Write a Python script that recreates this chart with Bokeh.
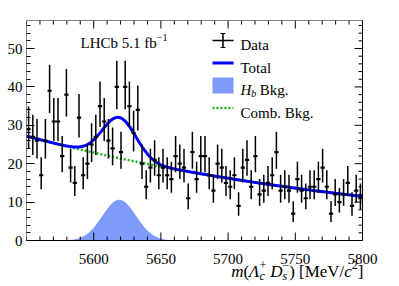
import numpy as np
from bokeh.plotting import figure
from bokeh.models import Label, Arrow, TeeHead, BoxAnnotation, FixedTicker
from bokeh.embed import file_html
from bokeh.resources import INLINE

# ---------------- data ----------------
mass_min, mass_max = 5550.0, 5800.0
n_bins = 80
counts = [29, 27, 26, 17, 26, 39, 31, 31, 22, 38,
          19, 15, 32, 17, 20, 25, 27, 35, 31, 26,
          24, 40, 23, 40, 35, 28, 34, 20, 14, 19,
          21, 17, 19, 17, 16, 22, 20, 19, 11, 23,
          16, 22, 22, 17, 13, 20, 19, 15, 14, 17,
          9, 19, 21, 14, 22, 12, 13, 15, 17, 23,
          13, 14, 13, 7, 16, 13, 11, 14, 14, 16,
          19, 14, 7, 12, 10, 12, 15, 9, 13, 11]

# fit components (shape parameters)
comb_at_min = 27.2       # combinatorial level at 5550
comb_slope = 0.00345     # exponential slope per MeV
hb_mean = 5619.0
hb_sigma = 12.5
hb_height = 10.6

x_ticks = [5600, 5650, 5700, 5750, 5800]
x_tick_labels = ["5600", "5650", "5700", "5750", "5800"]
x_minor = list(range(5550, 5801, 10))
y_ticks = [0, 10, 20, 30, 40, 50]
y_minor = list(range(0, 58, 2))
y_top = 57.3

# ---------------- derived ----------------
counts = np.array(counts, dtype=float)
bw = (mass_max - mass_min) / n_bins
lo_edges = mass_min + np.arange(n_bins) * bw
hi_edges = lo_edges + bw
centers = lo_edges + bw / 2
err_up = np.sqrt(counts + 0.25) + 0.5
err_dn = np.sqrt(counts + 0.25) - 0.5

m = np.linspace(mass_min, mass_max, 600)
comb = comb_at_min * np.exp(-comb_slope * (m - mass_min))
hb = hb_height * np.exp(-0.5 * ((m - hb_mean) / hb_sigma) ** 2)
total = comb + hb

SERIF = "Liberation Serif"
BLUE = "#0000ff"
GREEN = "#16b316"
HBFILL = "#7e9bfb"

# layout: the drawing area spans from x=26 to the right edge and from y=20 to the bottom;
# the data box (5550-5800, 0-57.3) occupies 336 x 220 px of it, the strip below holds
# the x tick labels and the axis title.
W, H = 399, 286
BL, BT = 26, 20
BOX_W, BOX_H = 336, 220
mev_per_px = (mass_max - mass_min) / BOX_W
cnt_per_px = y_top / BOX_H
below_px = H - BT - BOX_H            # strip under the data box
right_px = W - BL - BOX_W            # strip right of the data box
x_lo, x_hi = mass_min, mass_max + right_px * mev_per_px
y_lo, y_hi = -below_px * cnt_per_px, y_top

p = figure(width=W, height=H, x_range=(x_lo, x_hi), y_range=(y_lo, y_hi),
           output_backend="svg", toolbar_location=None, x_axis_location=None,
           min_border_left=BL, min_border_right=0, min_border_top=BT, min_border_bottom=0)
p.grid.visible = False
p.outline_line_color = None
p.background_fill_color = "white"
p.border_fill_color = "white"

yl = p.yaxis[0]
yl.ticker = FixedTicker(ticks=y_ticks, minor_ticks=y_minor)
yl.axis_line_color = None
yl.major_tick_in = 8
yl.major_tick_out = 0
yl.minor_tick_in = 4
yl.minor_tick_out = 0
yl.major_tick_line_color = "black"
yl.minor_tick_line_color = "black"
yl.major_label_text_font = SERIF
yl.major_label_text_font_size = "15px"
yl.major_label_text_color = "black"
yl.major_label_standoff = 4

# ---------------- glyphs ----------------
p.varea(x=m, y1=0, y2=hb, fill_color=HBFILL, fill_alpha=1)
p.line(m, comb, line_color=GREEN, line_width=2.5, line_dash="2 2")
p.line(m, total, line_color=BLUE, line_width=3)
p.segment(x0=centers, y0=counts - err_dn, x1=centers, y1=counts + err_up,
          line_color="black", line_width=1.5)
p.segment(x0=lo_edges, y0=counts, x1=hi_edges, y1=counts,
          line_color="black", line_width=2.2)

# inward ticks on bottom, top and right edges (screen-length rays)
x_minor_only = [v for v in x_minor if v not in x_ticks]
y_minor_only = [v for v in y_minor if v not in y_ticks]
tick_kw = dict(length_units="screen", line_color="black", line_width=1)
p.ray(x=x_ticks, y=[0] * len(x_ticks), length=8, angle=np.pi / 2, **tick_kw)
p.ray(x=x_minor_only, y=[0] * len(x_minor_only), length=4, angle=np.pi / 2, **tick_kw)
p.ray(x=x_ticks, y=[y_top] * len(x_ticks), length=8, angle=-np.pi / 2, **tick_kw)
p.ray(x=x_minor_only, y=[y_top] * len(x_minor_only), length=4, angle=-np.pi / 2, **tick_kw)
p.ray(x=[mass_max] * len(y_ticks), y=y_ticks, length=8, angle=np.pi, **tick_kw)
p.ray(x=[mass_max] * len(y_minor_only), y=y_minor_only, length=4, angle=np.pi, **tick_kw)

# data box outline
p.quad(left=[mass_min], right=[mass_max], bottom=[0], top=[y_top],
       fill_color=None, line_color="black", line_width=1)

# ---------------- text helpers ----------------
W_REG = {" ": .25, "(": .333, ")": .333, "[": .333, "]": .333, "M": .889, "e": .444,
         "V": .722, "/": .278, "+": .564, "\u2212": .564, ".": .25, "L": .611,
         "H": .722, "C": .667, "b": .5, "f": .333, "k": .5, "g": .5, "B": .667}
W_IT = {"m": .722, "\u039b": .611, "c": .444, "D": .722, "s": .389, "H": .722, "b": .5}

def text_w(t, size, italic=False):
    tab = W_IT if italic else W_REG
    return sum(tab.get(ch, .5) for ch in t) * size

def lab(t, x, y, size, italic=False, x_units="screen", align="left"):
    p.add_layout(Label(x=x, y=y, x_units=x_units, y_units="screen", text=t,
                       text_font=SERIF, text_font_size=f"{size}px",
                       text_font_style="italic" if italic else "normal",
                       text_color="black", text_baseline="alphabetic", text_align=align))

def run_w(r, F, S):
    if r[0] == "gap":
        return r[1]
    if r[0] == "stack":
        return max(text_w(r[1], S, False), text_w(r[2], S, r[3]))
    return text_w(r[1], F, r[2])

def draw_runs(runs, x, y, F, S):
    for r in runs:
        if r[0] == "stack":
            if r[1]:
                lab(r[1], x, y + 0.4 * F, S, False)
            if r[2]:
                lab(r[2], x, y - 0.25 * F, S, r[3])
        elif r[0] == "t":
            lab(r[1], x, y, F, r[2])
        x += run_w(r, F, S)
    return x

# screen y measured from the bottom of the drawing area; Y0 = zero line of the data box
Y0 = below_px

# LHCb label
xe = draw_runs([("t", "LHCb 5.1 fb", False)], 54, Y0 + 197.5, 15, 10)
lab("\u22121", xe, Y0 + 203.5, 10)

# ---------------- legend ----------------
sx0, sx1 = 186, 207
tx = 214
p.add_layout(Arrow(x_start=sx0, y_start=Y0 + 200, x_end=sx1, y_end=Y0 + 200, start_units="screen",
                   end_units="screen", start=None, end=None, line_color="black", line_width=1.5))
p.add_layout(Arrow(x_start=196.5, y_start=Y0 + 193, x_end=196.5, y_end=Y0 + 207,
                   start_units="screen", end_units="screen",
                   start=TeeHead(size=5, line_width=1.2, line_color="black"),
                   end=TeeHead(size=5, line_width=1.2, line_color="black"),
                   line_color="black", line_width=1.5))
lab("Data", tx, Y0 + 195.5, 15)
p.add_layout(Arrow(x_start=sx0, y_start=Y0 + 177.5, x_end=sx1, y_end=Y0 + 177.5,
                   start_units="screen", end_units="screen", start=None, end=None,
                   line_color=BLUE, line_width=3))
lab("Total", tx, Y0 + 173, 15)
p.add_layout(BoxAnnotation(left=sx0, right=sx1, bottom=Y0 + 147, top=Y0 + 163,
                           left_units="screen", right_units="screen",
                           bottom_units="screen", top_units="screen",
                           fill_color=HBFILL, fill_alpha=1, line_color=None))
draw_runs([("t", "H", True), ("stack", "", "b", True), ("gap", 3.5), ("t", "Bkg.", False)],
          tx, Y0 + 150.5, 15, 10)
p.add_layout(Arrow(x_start=sx0, y_start=Y0 + 132.5, x_end=sx1, y_end=Y0 + 132.5,
                   start_units="screen", end_units="screen", start=None, end=None,
                   line_color=GREEN, line_width=2.5, line_dash="2 2"))
lab("Comb. Bkg.", tx, Y0 + 128, 15)

# ---------------- x tick labels and x title ----------------
for v, t in zip(x_ticks, x_tick_labels):
    lab(t, v, Y0 - 18.5, 15, False, x_units="data", align="center")

F, S = 17, 12
title_runs = [("t", "m", True), ("t", "(", False), ("t", "\u039b", True),
              ("stack", "+", "c", True), ("gap", 4), ("t", "D", True),
              ("stack", "\u2212", "s", True), ("t", ")", False), ("gap", 4),
              ("t", "[MeV/", False), ("t", "c", True),
              ("stack", "2", "", False), ("t", "]", False)]
tw = sum(run_w(r, F, S) for r in title_runs)
draw_runs(title_runs, BOX_W + 1 - tw, Y0 - 31, F, S)

open("out.html", "w").write(file_html(p, INLINE))
